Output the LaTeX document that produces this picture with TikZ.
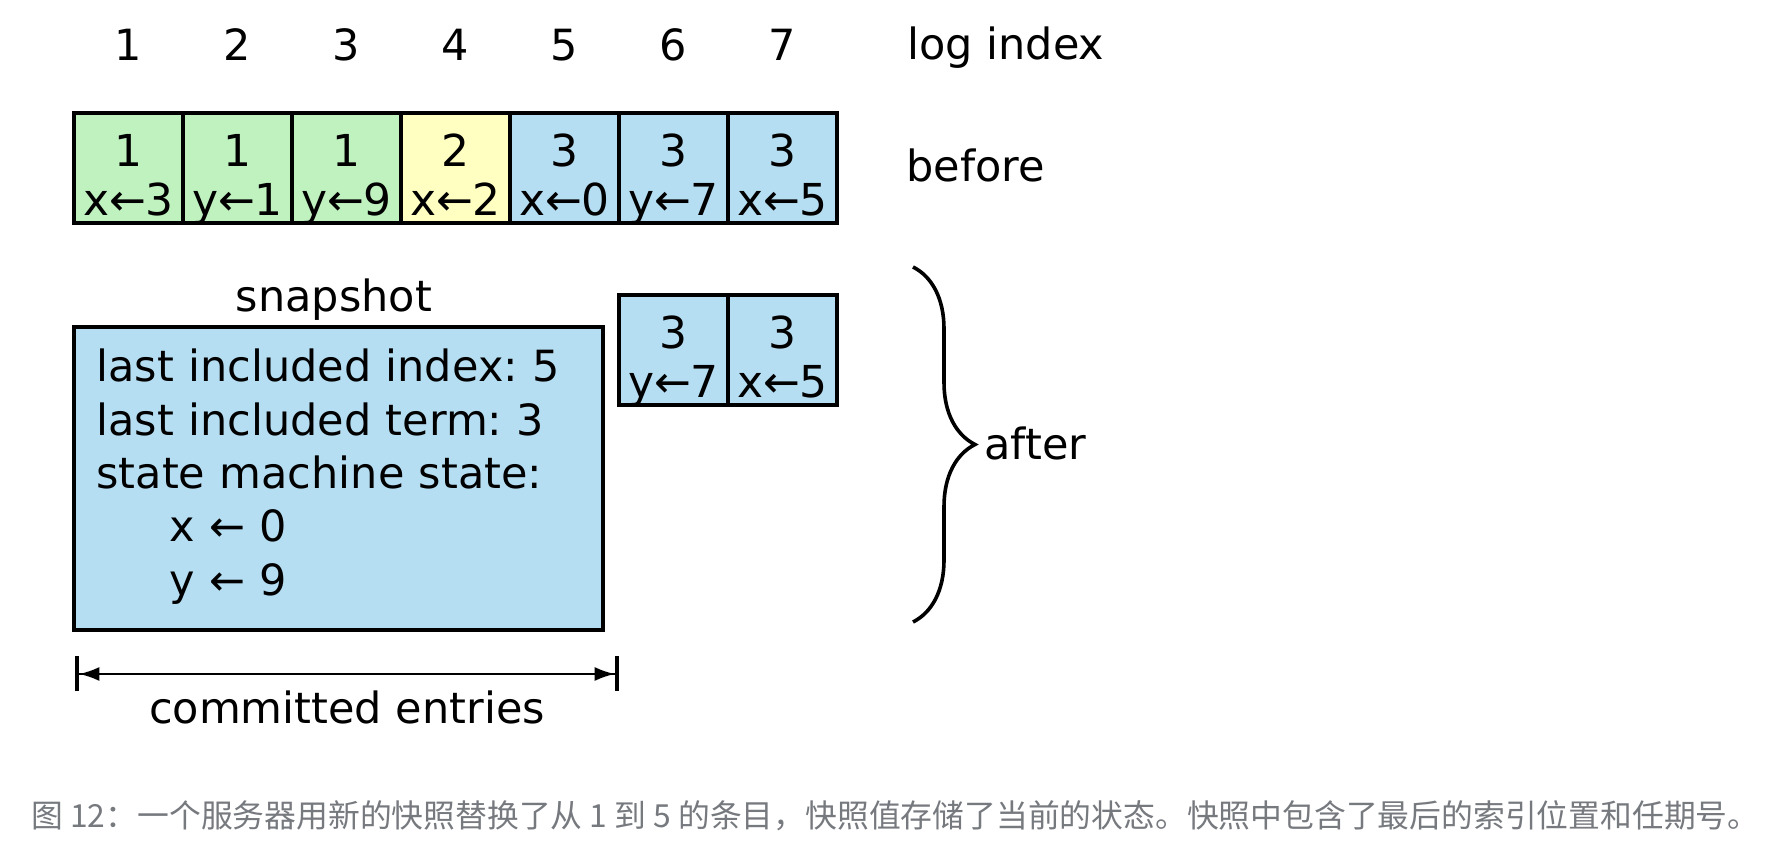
\documentclass[tikz,border=0pt]{standalone}
\usepackage{fontspec}
\setmainfont{DejaVu Sans}
\newfontfamily\cjkfont{Noto Sans CJK SC}
\usetikzlibrary{arrows.meta,positioning,decorations.pathreplacing}
\definecolor{termone}{RGB}{192,242,192}
\definecolor{termtwo}{RGB}{255,255,194}
\definecolor{termthree}{RGB}{182,222,242}
\definecolor{capgray}{RGB}{118,121,126}
\frenchspacing

\begin{document}
\begin{tikzpicture}[x=0.5pt,y=-0.5pt,
  entry/.style={draw, line width=2.2pt, minimum width=54.5pt, minimum height=55pt,
                inner sep=0pt, outer sep=0pt},
  entrytext/.style={anchor=base, text width=54pt, align=center, inner sep=0pt,
                    font=\fontsize{22}{24.5}\selectfont},
  lbl/.style={inner sep=0pt, font=\fontsize{21.5}{26.65}\selectfont}]

\useasboundingbox (0,0) rectangle (1782,854);

\foreach \tm/\vr/\vl/\col [count=\i] in {1/x/3/termone,1/y/1/termone,1/y/9/termone,
    2/x/2/termtwo,3/x/0/termthree,3/y/7/termthree,3/x/5/termthree}
{
  \node[entry, fill=\col] (L\i) at (19.5+109*\i,168) {};
  \node[entrytext] (T\i) at ([yshift=0.5pt]L\i.center) {\tm\\\vr{}←\vl};
  \node[lbl] (N\i) at (19.5+109*\i,45) {\i};
}

\node[lbl, anchor=base west] (LI) at (907,60) {log index};
\node[lbl, anchor=base west] (BE) at (906,182) {before};

\node[entry, fill=termthree, below=36pt of L6] (A6) {};
\node[entry, fill=termthree, right=0pt of A6] (A7) {};
\node[entrytext] (U6) at ([yshift=0.5pt]A6.center) {3\\y←7};
\node[entrytext] (U7) at ([yshift=0.5pt]A7.center) {3\\x←5};

\node[entry, fill=termthree, minimum width=264.5pt, minimum height=151.5pt] (S) at (338.5,478.5) {};
\node[lbl, anchor=base] (SL) at (334,312) {snapshot};
\node[lbl, anchor=base west, text width=250pt, align=left] (ST) at (96,382)
  {last included index: 5\\last included term: 3\\state machine state:\\
   \hspace*{36.5pt}x ← 0\\\hspace*{36.5pt}y ← 9};

\coordinate (B1) at (913,267);
\coordinate (B2) at (913,622);
\draw[line width=1.8pt, decorate, decoration={brace, amplitude=31pt}] (B1) -- (B2);
\node[lbl, anchor=base west] (AF) at (984,460) {after};

\coordinate (D1) at (75,674);
\coordinate (D2) at (619,674);
\draw[line width=0.8pt,
  {Bar[width=17.5pt,line width=2.2pt]Latex[length=10pt,width=7pt]}-{Latex[length=10pt,width=7pt]Bar[width=17.5pt,line width=2.2pt]}]
  (D1) -- (D2);
\node[lbl, anchor=base] (CE) at (347,723) {committed entries};

\node[anchor=base west, inner sep=0pt, text=capgray, font=\cjkfont\fontsize{15.9}{19}\selectfont] (CAP) at (31,827)
  {图 12：一个服务器用新的快照替换了从 1 到 5 的条目，快照值存储了当前的状态。快照中包含了最后的索引位置和任期号。};
\end{tikzpicture}
\end{document}
